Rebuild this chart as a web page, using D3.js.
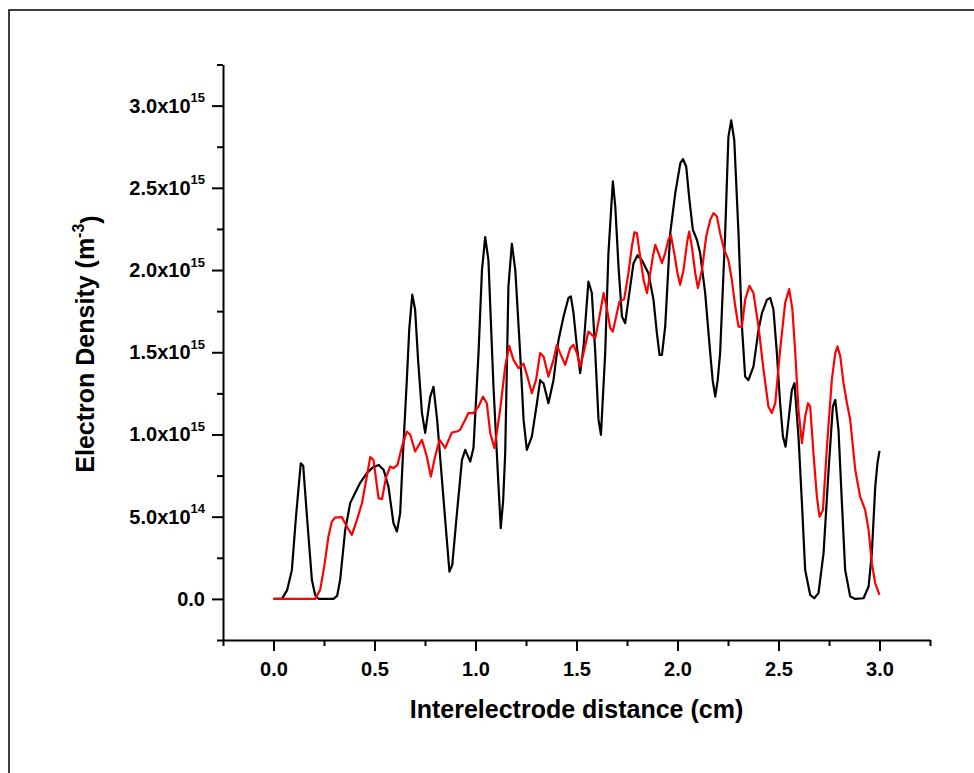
<!DOCTYPE html>
<html lang="en">
<head>
<meta charset="UTF-8">
<title>Electron Density</title>
<script src="https://d3js.org/d3.v7.min.js"></script>
<style>
  body { margin: 0; background: #fff; }
  svg { display: block; font-family: "Liberation Sans", Arial, sans-serif; font-weight: bold; }
</style>
</head>
<body>
<script>
// distance (cm), electron density in units of 1e15 m^-3
const blackSeries = [
  [0, 0], [0.042, 0], [0.068, 0.055], [0.091, 0.176], [0.112, 0.51], [0.135, 0.825], [0.147, 0.81],
  [0.167, 0.48], [0.19, 0.116], [0.206, 0.024], [0.223, 0], [0.297, 0], [0.315, 0.018], [0.33, 0.116],
  [0.355, 0.42], [0.38, 0.584], [0.429, 0.706], [0.462, 0.765], [0.489, 0.797], [0.52, 0.815],
  [0.545, 0.785], [0.569, 0.683], [0.594, 0.46], [0.611, 0.41], [0.627, 0.52], [0.642, 0.906],
  [0.66, 1.33], [0.672, 1.64], [0.687, 1.85], [0.701, 1.76], [0.716, 1.45], [0.735, 1.13],
  [0.751, 1.01], [0.776, 1.23], [0.792, 1.29], [0.81, 1.09], [0.834, 0.724], [0.85, 0.48],
  [0.871, 0.166], [0.885, 0.207], [0.908, 0.52], [0.933, 0.845], [0.949, 0.906], [0.974, 0.835],
  [0.99, 0.918], [1.015, 1.496], [1.032, 2.0], [1.048, 2.2], [1.064, 2.06], [1.089, 1.29],
  [1.114, 0.683], [1.125, 0.43], [1.137, 0.6], [1.147, 0.886], [1.163, 1.9], [1.18, 2.16],
  [1.197, 2.0], [1.221, 1.495], [1.238, 1.09], [1.254, 0.906], [1.279, 0.987], [1.304, 1.19],
  [1.32, 1.33], [1.337, 1.31], [1.361, 1.19], [1.386, 1.33], [1.411, 1.575], [1.436, 1.717],
  [1.46, 1.83], [1.472, 1.84], [1.485, 1.74], [1.502, 1.535], [1.518, 1.373], [1.535, 1.535],
  [1.559, 1.93], [1.576, 1.86], [1.593, 1.495], [1.609, 1.09], [1.621, 0.998], [1.642, 1.495],
  [1.658, 2.1], [1.68, 2.54], [1.692, 2.386], [1.708, 2.02], [1.725, 1.717], [1.741, 1.677],
  [1.757, 1.82], [1.782, 2.04], [1.802, 2.09], [1.824, 2.06], [1.856, 1.98], [1.881, 1.82],
  [1.898, 1.616], [1.911, 1.484], [1.923, 1.484], [1.939, 1.656], [1.964, 2.224], [1.989, 2.468],
  [2.014, 2.65], [2.027, 2.675], [2.043, 2.63], [2.059, 2.427], [2.076, 2.245], [2.096, 2.184],
  [2.112, 2.103], [2.137, 1.86], [2.162, 1.495], [2.174, 1.33], [2.187, 1.23], [2.199, 1.33],
  [2.211, 1.495], [2.236, 2.224], [2.252, 2.81], [2.266, 2.91], [2.281, 2.79], [2.302, 2.224],
  [2.319, 1.656], [2.335, 1.352], [2.351, 1.33], [2.376, 1.413], [2.401, 1.636], [2.418, 1.738],
  [2.443, 1.82], [2.459, 1.83], [2.475, 1.76], [2.492, 1.495], [2.508, 1.19], [2.522, 0.987],
  [2.535, 0.926], [2.55, 1.09], [2.566, 1.27], [2.579, 1.312], [2.599, 0.987], [2.616, 0.582],
  [2.632, 0.176], [2.657, 0.024], [2.677, 0.004], [2.698, 0.035], [2.723, 0.278], [2.748, 0.785],
  [2.769, 1.17], [2.781, 1.21], [2.797, 1.028], [2.814, 0.582], [2.83, 0.176], [2.855, 0.014],
  [2.88, 0], [2.921, 0.004], [2.946, 0.075], [2.962, 0.278], [2.979, 0.683], [2.99, 0.825], [3.0, 0.9]
];

const redSeries = [
  [0, 0], [0.206, 0], [0.231, 0.055], [0.251, 0.196], [0.272, 0.379], [0.289, 0.47], [0.305, 0.495],
  [0.339, 0.497], [0.363, 0.44], [0.388, 0.389], [0.413, 0.48], [0.438, 0.582], [0.462, 0.744],
  [0.479, 0.862], [0.495, 0.845], [0.52, 0.613], [0.537, 0.606], [0.558, 0.744], [0.578, 0.805],
  [0.594, 0.795], [0.614, 0.815], [0.636, 0.926], [0.66, 1.018], [0.677, 0.998], [0.701, 0.896],
  [0.735, 0.967], [0.759, 0.866], [0.779, 0.744], [0.8, 0.866], [0.822, 0.967], [0.85, 0.917],
  [0.883, 1.012], [0.908, 1.018], [0.924, 1.028], [0.949, 1.089], [0.965, 1.13], [0.99, 1.13],
  [1.015, 1.17], [1.037, 1.23], [1.056, 1.19], [1.073, 1.008], [1.094, 0.917], [1.122, 1.15],
  [1.147, 1.413], [1.167, 1.539], [1.188, 1.454], [1.213, 1.403], [1.238, 1.43], [1.257, 1.352],
  [1.279, 1.251], [1.3, 1.332], [1.32, 1.495], [1.337, 1.474], [1.361, 1.352], [1.386, 1.454],
  [1.403, 1.545], [1.419, 1.495], [1.444, 1.423], [1.469, 1.525], [1.485, 1.545], [1.502, 1.495],
  [1.518, 1.413], [1.535, 1.495], [1.559, 1.626], [1.576, 1.606], [1.593, 1.586], [1.617, 1.738],
  [1.634, 1.86], [1.65, 1.77], [1.667, 1.647], [1.68, 1.626], [1.7, 1.738], [1.713, 1.808],
  [1.736, 1.823], [1.757, 1.98], [1.774, 2.143], [1.787, 2.23], [1.799, 2.224], [1.815, 2.082],
  [1.832, 1.94], [1.849, 1.86], [1.865, 1.98], [1.878, 2.082], [1.89, 2.153], [1.906, 2.103],
  [1.923, 2.042], [1.939, 2.103], [1.955, 2.184], [1.967, 2.214], [1.984, 2.103], [2.0, 1.98],
  [2.013, 1.91], [2.03, 2.0], [2.047, 2.164], [2.058, 2.234], [2.071, 2.143], [2.088, 1.98],
  [2.101, 1.89], [2.121, 2.0], [2.142, 2.204], [2.162, 2.305], [2.178, 2.346], [2.195, 2.325],
  [2.211, 2.224], [2.231, 2.123], [2.252, 2.062], [2.269, 1.94], [2.286, 1.778], [2.302, 1.656],
  [2.319, 1.656], [2.335, 1.82], [2.356, 1.904], [2.376, 1.86], [2.401, 1.656], [2.426, 1.393],
  [2.45, 1.17], [2.467, 1.13], [2.484, 1.19], [2.508, 1.515], [2.533, 1.8], [2.553, 1.884],
  [2.569, 1.758], [2.583, 1.495], [2.599, 1.15], [2.616, 0.947], [2.632, 1.109], [2.646, 1.19],
  [2.657, 1.17], [2.673, 0.886], [2.69, 0.622], [2.703, 0.5], [2.72, 0.541], [2.74, 0.926],
  [2.764, 1.332], [2.781, 1.495], [2.792, 1.535], [2.806, 1.474], [2.822, 1.312], [2.839, 1.19],
  [2.855, 1.089], [2.88, 0.785], [2.904, 0.622], [2.929, 0.541], [2.946, 0.42], [2.962, 0.217],
  [2.979, 0.095], [3.0, 0.024]
];

const xTicks = [0, 0.5, 1, 1.5, 2, 2.5, 3];
const xMinorTicks = [-0.25, 0.25, 0.75, 1.25, 1.75, 2.25, 2.75, 3.25];
const yTicks = [0, 0.5, 1, 1.5, 2, 2.5, 3];
const yMinorTicks = [-0.25, 0.25, 0.75, 1.25, 1.75, 2.25, 2.75, 3.25];
const yTickMantissa = ["0.0", "5.0x10", "1.0x10", "1.5x10", "2.0x10", "2.5x10", "3.0x10"];
const yTickExponent = ["", "14", "15", "15", "15", "15", "15"];

const width = 974, height = 773;
const svg = d3.select("body").append("svg")
  .attr("width", width)
  .attr("height", height);

// outer frame (only top and left edges are visible)
svg.append("path")
  .attr("d", "M9,773 V10 H974")
  .attr("fill", "none")
  .attr("stroke", "#000")
  .attr("stroke-width", 1.5);

const x = d3.scaleLinear().domain([-0.25, 3.25]).range([223, 930]);
const y = d3.scaleLinear().domain([-0.25, 3.25]).range([640, 64.5]);

// x axis
const gx = svg.append("g").attr("transform", `translate(0,${y(-0.25)})`);
gx.call(d3.axisBottom(x).tickValues(xMinorTicks).tickSize(6).tickSizeOuter(0).tickFormat(""));
gx.call(g => g.selectAll("path").remove());
const gx2 = svg.append("g").attr("transform", `translate(0,${y(-0.25)})`);
gx2.call(d3.axisBottom(x).tickValues(xTicks).tickSize(11).tickSizeOuter(0).tickPadding(11)
  .tickFormat(d3.format(".1f")));

// y axis
const gy = svg.append("g").attr("transform", `translate(${x(-0.25)},0)`);
gy.call(d3.axisLeft(y).tickValues(yMinorTicks).tickSize(6).tickSizeOuter(0).tickFormat(""));
gy.call(g => g.selectAll("path").remove());
const gy2 = svg.append("g").attr("transform", `translate(${x(-0.25)},0)`);
gy2.call(d3.axisLeft(y).tickValues(yTicks).tickSize(11).tickSizeOuter(0).tickPadding(7)
  .tickFormat(""));

gy2.selectAll(".tick text").each(function(d, i) {
  const t = d3.select(this);
  t.append("tspan").text(yTickMantissa[i]);
  if (yTickExponent[i]) {
    t.append("tspan").attr("dy", "-0.8em").attr("font-size", 13).text(yTickExponent[i]);
  }
});

svg.selectAll(".domain, .tick line").attr("stroke", "#000").attr("stroke-width", 2);
svg.selectAll(".tick text")
  .attr("fill", "#000")
  .attr("font-family", "'Liberation Sans', Arial, sans-serif")
  .attr("font-weight", "bold")
  .attr("font-size", 20);

// curves
const line = d3.line().x(d => x(d[0])).y(d => y(d[1]));

svg.append("path")
  .datum(blackSeries)
  .attr("d", line)
  .attr("fill", "none")
  .attr("stroke", "#000")
  .attr("stroke-width", 2.2)
  .attr("stroke-linejoin", "round");

svg.append("path")
  .datum(redSeries)
  .attr("d", line)
  .attr("fill", "none")
  .attr("stroke", "#ff0000")
  .attr("stroke-width", 2.2)
  .attr("stroke-linejoin", "round");

// axis titles
svg.append("text")
  .attr("x", (x.range()[0] + x.range()[1]) / 2)
  .attr("y", 718)
  .attr("text-anchor", "middle")
  .attr("font-size", 25)
  .text("Interelectrode distance (cm)");

const yTitle = svg.append("text")
  .attr("transform", "translate(94,344) rotate(-90)")
  .attr("text-anchor", "middle")
  .attr("font-size", 25);
yTitle.append("tspan").text("Electron Density (m");
yTitle.append("tspan").attr("dy", "-0.6em").attr("font-size", 16).text("-3");
yTitle.append("tspan").attr("dy", "0.6em").text(")");
</script>
</body>
</html>
